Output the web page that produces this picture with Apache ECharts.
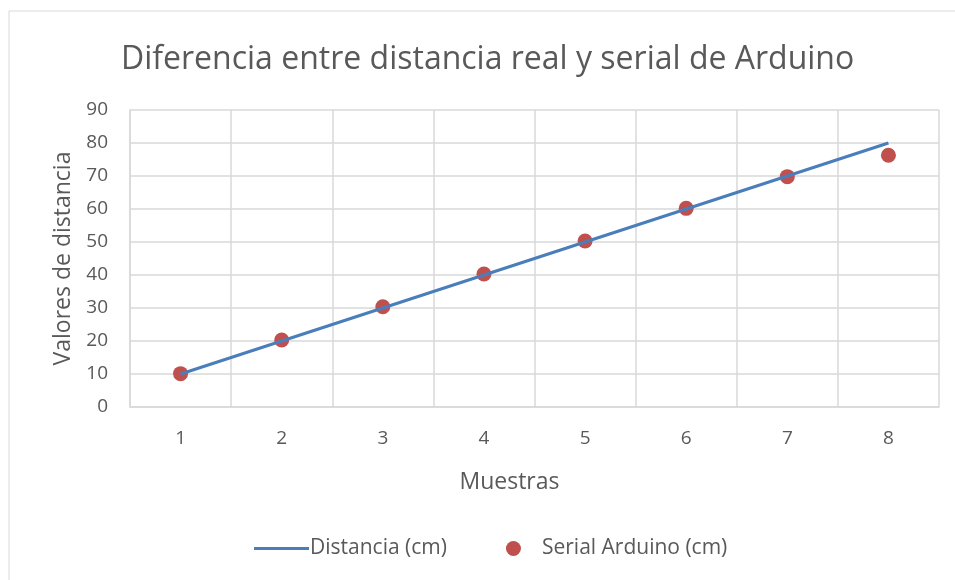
<!DOCTYPE html>
<html>
<head>
  <meta charset="utf-8"/>
  <title>Diferencia entre distancia real y serial de Arduino</title>
  <script src="https://cdn.jsdelivr.net/npm/echarts@6/dist/echarts.min.js"></script>
  <style>
    html, body { margin: 0; padding: 0; background: #fff; }
    #chart { width: 955px; height: 580px; }
  </style>
</head>
<body>
<div id="chart"></div>
<script>
var muestras = ['1', '2', '3', '4', '5', '6', '7', '8'];
var distancia = [10, 20, 30, 40, 50, 60, 70, 80];
var serialArduino = [10.1, 20.3, 30.4, 40.3, 50.3, 60.2, 69.8, 76.3];

var font = 'Open Sans';
var txt = '#595959';
var gridCol = '#d9d9d9';

var chart = echarts.init(document.getElementById('chart'));
chart.setOption({
  animation: false,
  textStyle: { fontFamily: font, color: txt },
  graphic: [{
    type: 'rect',
    shape: { x: 9, y: 11, width: 960, height: 600 },
    style: { fill: 'none', stroke: '#d9d9d9', lineWidth: 1 },
    silent: true
  }],
  title: {
    text: 'Diferencia entre distancia real y serial de Arduino',
    left: 116,
    top: 39,
    textStyle: { fontFamily: font, fontSize: 32, fontWeight: 'normal', color: txt }
  },
  grid: { left: 130, right: 16, top: 110, bottom: 173 },
  legend: {
    bottom: 16,
    left: 249,
    itemGap: 59,
    itemWidth: 55,
    itemHeight: 15,
    textStyle: { fontFamily: font, fontSize: 21, color: txt, padding: [0, 0, 0, -4] },
    data: [
      { name: 'Distancia (cm)', icon: 'path://M0,6 L55,6 L55,9 L0,9 Z' },
      { name: 'Serial Arduino (cm)', icon: 'circle' }
    ]
  },
  xAxis: {
    type: 'category',
    data: muestras,
    boundaryGap: true,
    name: 'Muestras',
    nameLocation: 'middle',
    nameGap: 64,
    nameTextStyle: { fontSize: 23, color: txt, padding: [0, 50, 0, 0] },
    axisLine: { lineStyle: { color: gridCol, width: 1.5 } },
    axisTick: { show: false },
    axisLabel: { fontSize: 19, color: txt, margin: 22 },
    splitLine: { show: true, lineStyle: { color: gridCol, width: 1.5 } }
  },
  yAxis: {
    type: 'value',
    min: 0,
    max: 90,
    interval: 10,
    name: 'Valores de distancia',
    nameLocation: 'middle',
    nameGap: 54,
    nameTextStyle: { fontSize: 23, color: txt },
    axisLine: { show: true, lineStyle: { color: gridCol, width: 1.5 } },
    axisTick: { show: false },
    axisLabel: { fontSize: 19, color: txt, margin: 22 },
    splitLine: { show: true, lineStyle: { color: gridCol, width: 1.5 } }
  },
  series: [
    {
      name: 'Distancia (cm)',
      type: 'line',
      data: distancia,
      showSymbol: false,
      symbol: 'none',
      lineStyle: { color: '#4a7ebb', width: 3 },
      itemStyle: { color: '#4a7ebb' }
    },
    {
      name: 'Serial Arduino (cm)',
      type: 'scatter',
      data: serialArduino,
      symbolSize: 15,
      itemStyle: { color: '#c0504d', opacity: 1 }
    }
  ]
});
</script>
</body>
</html>
